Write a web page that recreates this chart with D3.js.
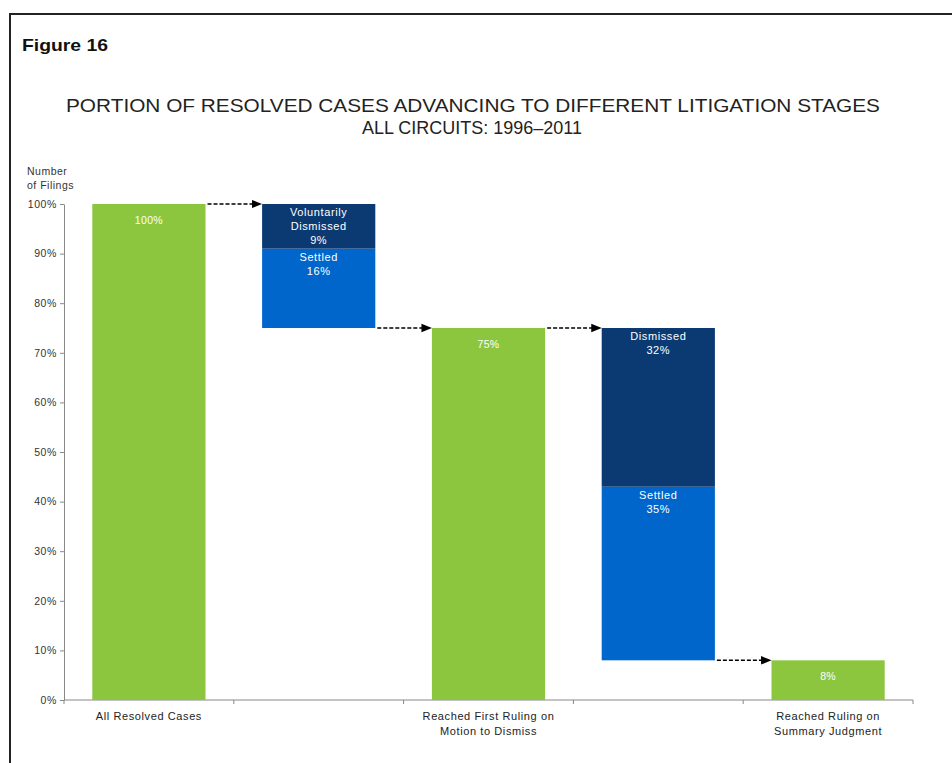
<!DOCTYPE html>
<html>
<head>
<meta charset="utf-8">
<script src="https://cdn.jsdelivr.net/npm/d3@7"></script>
<style>
  body { margin: 0; background: #fff; }
  text { font-family: "Liberation Sans", Arial, sans-serif; }
</style>
</head>
<body>
<div id="chart"></div>
<script>
// stages along the x axis (empty strings are the "drop-off" columns)
var stages = ["All Resolved Cases", "", "Reached First Ruling on\nMotion to Dismiss", "", "Reached Ruling on\nSummary Judgment"];
// the green totals for stage columns
var stageValues = [100, null, 75, null, 8];
// stacked drop-off segments: [column index, label, value]
var dropCols = [1, 1, 3, 3];
var dropLabels = ["Settled\n16%", "Voluntarily\nDismissed\n9%", "Settled\n35%", "Dismissed\n32%"];
var dropValues = [16, 9, 35, 32];
var dropKinds = ["settled", "dismissed", "settled", "dismissed"];
var yTicks = [0, 10, 20, 30, 40, 50, 60, 70, 80, 90, 100];

var W = 952, H = 763;
var margin = { top: 204, right: 39, bottom: 63, left: 64 },
    width = W - margin.left - margin.right,
    height = H - margin.top - margin.bottom;

var svg = d3.select("#chart").append("svg")
    .attr("width", W).attr("height", H);

// frame
svg.append("rect")
    .attr("x", 10).attr("y", 14)
    .attr("width", W).attr("height", H)
    .attr("fill", "none").attr("stroke", "#222").attr("stroke-width", 2);

svg.append("text").attr("x", 22).attr("y", 51)
    .attr("font-size", 17).attr("font-weight", "bold").attr("fill", "#111")
    .attr("textLength", 86).attr("lengthAdjust", "spacingAndGlyphs")
    .text("Figure 16");

svg.append("text").attr("x", 66).attr("y", 112)
    .attr("font-size", 18).attr("fill", "#222")
    .attr("textLength", 814).attr("lengthAdjust", "spacingAndGlyphs")
    .text("PORTION OF RESOLVED CASES ADVANCING TO DIFFERENT LITIGATION STAGES");
svg.append("text").attr("x", 362).attr("y", 134)
    .attr("font-size", 18).attr("fill", "#222")
    .attr("textLength", 220).attr("lengthAdjust", "spacingAndGlyphs")
    .text("ALL CIRCUITS: 1996\u20132011");

svg.append("text").attr("x", 27).attr("y", 175).attr("font-size", 10.5).attr("fill", "#333")
    .attr("letter-spacing", 0.5).text("Number");
svg.append("text").attr("x", 27).attr("y", 189).attr("font-size", 10.5).attr("fill", "#333")
    .attr("letter-spacing", 0.5).text("of Filings");

var g = svg.append("g").attr("transform", "translate(" + margin.left + "," + margin.top + ")");

var x = d3.scaleBand().domain(d3.range(stages.length)).range([0, width]).paddingInner(1 / 3).paddingOuter(1 / 6);
var y = d3.scaleLinear().domain([0, 100]).range([height, 0]);

// y axis
var yAxis = g.append("g").call(d3.axisLeft(y).tickValues(yTicks).tickFormat((d) => d + "%").tickSize(4).tickSizeOuter(0));
yAxis.select(".domain").attr("stroke", "#888");
yAxis.selectAll(".tick line").attr("stroke", "#888");
yAxis.selectAll("text").attr("font-size", 10.5).attr("fill", "#333")
    .attr("font-family", "Liberation Sans, Arial").attr("letter-spacing", 0.6);

// x axis line with category ticks between columns
g.append("line").attr("x1", 0).attr("x2", width).attr("y1", height).attr("y2", height)
    .attr("stroke", "#888");
g.selectAll(".xtick").data(d3.range(stages.length + 1)).enter().append("line")
    .attr("x1", (d) => d * width / stages.length).attr("x2", (d) => d * width / stages.length)
    .attr("y1", height).attr("y2", height + 4).attr("stroke", "#888");

// x labels
stages.forEach((s, i) => {
    if (!s) return;
    var t = g.append("text").attr("text-anchor", "middle").attr("font-size", 11).attr("fill", "#222")
        .attr("letter-spacing", 0.6);
    s.split("\n").forEach((line, j) => {
        t.append("tspan").attr("x", x(i) + x.bandwidth() / 2).attr("y", height + 20 + j * 15).text(line);
    });
});

var green = "#8cc63f", navy = "#0b3a73", blue = "#0066cc";

// green stage bars
stages.forEach((s, i) => {
    var v = stageValues[i];
    if (v == null) return;
    g.append("rect").attr("x", x(i)).attr("width", x.bandwidth())
        .attr("y", y(v)).attr("height", y(0) - y(v)).attr("fill", green);
    g.append("text").attr("x", x(i) + x.bandwidth() / 2).attr("y", y(v) + 20)
        .attr("text-anchor", "middle").attr("font-size", 10.5).attr("fill", "#fff")
        .attr("letter-spacing", 0.3)
        .text(v + "%");
});

// floating drop-off stacks: base = next stage's value
var bases = {};
dropCols.forEach((c, k) => {
    if (bases[c] == null) bases[c] = stageValues[c + 1];
    var b = bases[c], v = dropValues[k];
    bases[c] = b + v;
    g.append("rect").attr("x", x(c)).attr("width", x.bandwidth())
        .attr("y", y(b + v)).attr("height", y(b) - y(b + v))
        .attr("fill", dropKinds[k] === "settled" ? blue : navy);
    var t = g.append("text").attr("text-anchor", "middle").attr("font-size", 11)
        .attr("fill", "#fff").attr("letter-spacing", 0.6);
    dropLabels[k].split("\n").forEach((line, j) => {
        t.append("tspan").attr("x", x(c) + x.bandwidth() / 2)
            .attr("y", y(b + v) + 12 + j * 14).text(line);
    });
});

// dashed arrows connecting each column top
svg.append("defs").append("marker").attr("id", "arr")
    .attr("viewBox", "0 0 10 10").attr("refX", 9).attr("refY", 5)
    .attr("markerWidth", 7).attr("markerHeight", 7).attr("orient", "auto")
    .append("path").attr("d", "M0,1 L10,5 L0,9 Z").attr("fill", "#000");

var arrowLevels = [100, 75, 75, 8];
arrowLevels.forEach((lv, i) => {
    g.append("line")
        .attr("x1", x(i) + x.bandwidth() + 2).attr("x2", x(i + 1) - 1)
        .attr("y1", y(lv)).attr("y2", y(lv))
        .attr("stroke", "#000").attr("stroke-width", 1.5).attr("stroke-dasharray", "4,2")
        .attr("marker-end", "url(#arr)");
});
</script>
</body>
</html>
